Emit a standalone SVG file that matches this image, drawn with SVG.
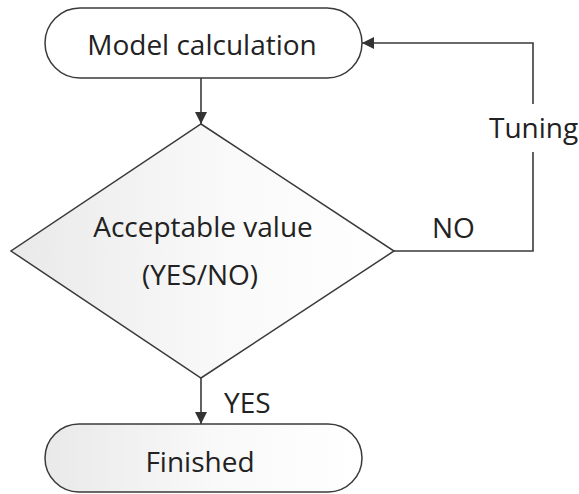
<svg xmlns="http://www.w3.org/2000/svg" width="579" height="494" viewBox="0 0 579 494">
<style>
.shape{stroke:#3a3a3a;stroke-width:1.5}
.lbl{font-family:"Open Sans","Noto Sans",sans-serif;font-size:28px;fill:#222}
.conn{fill:none;stroke:#3a3a3a;stroke-width:1.6}
</style>
<defs>
<linearGradient id="g" x1="0" y1="0" x2="1" y2="0">
<stop offset="0" stop-color="#e9e9e9"/>
<stop offset="0.55" stop-color="#f9f9f9"/>
<stop offset="1" stop-color="#ffffff"/>
</linearGradient>
<marker id="ah" viewBox="0 0 12 12" refX="12" refY="6" markerWidth="12" markerHeight="12" markerUnits="userSpaceOnUse" orient="auto">
<path d="M0,0 L12,6 L0,12 Z" fill="#333"/>
</marker>
</defs>
<rect width="579" height="494" fill="#fff"/>
<g id="connectors">
<line class="conn" x1="201" y1="78" x2="201" y2="124" marker-end="url(#ah)"/>
<path class="conn" d="M394 251 H533 V43 H362" marker-end="url(#ah)"/>
<line class="conn" x1="201" y1="378" x2="201" y2="424" marker-end="url(#ah)"/>
<rect x="486" y="104" width="93" height="48" fill="#fff"/>
<text class="lbl" x="489" y="138">Tuning</text>
<text class="lbl" x="432" y="238">NO</text>
<text class="lbl" x="224" y="413">YES</text>
</g>
<g id="model">
<rect class="shape" x="45" y="8" width="317" height="70" rx="35" fill="#fff"/>
<text class="lbl" x="202" y="55" text-anchor="middle">Model calculation</text>
</g>
<g id="decision">
<polygon class="shape" points="201,124 394,251 201,378 11,251" fill="url(#g)"/>
<text class="lbl" x="203" y="237" text-anchor="middle">Acceptable value</text>
<text class="lbl" x="200" y="285" text-anchor="middle">(YES/NO)</text>
</g>
<g id="finished">
<rect class="shape" x="45" y="424" width="317" height="68" rx="34" fill="url(#g)"/>
<text class="lbl" x="200" y="472" text-anchor="middle">Finished</text>
</g>
</svg>
